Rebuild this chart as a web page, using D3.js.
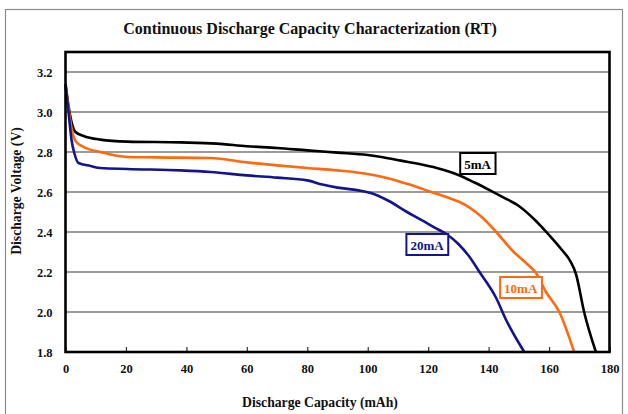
<!DOCTYPE html>
<html><head><meta charset="utf-8">
<script src="https://cdn.jsdelivr.net/npm/d3@7"></script>
<style>
body{margin:0;background:#fff;}
text{font-family:"Liberation Serif","Times New Roman",serif;font-weight:bold;}
</style></head>
<body><svg id="c" width="628" height="414"></svg>
<script>
const title = "Continuous Discharge Capacity Characterization (RT)";
const xTitle = "Discharge Capacity (mAh)";
const yTitle = "Discharge Voltage (V)";
const xTicks = [0,20,40,60,80,100,120,140,160,180];
const yTicks = [1.8,2.0,2.2,2.4,2.6,2.8,3.0,3.2];

const cap5 = [0,1,2,3.3,6,11.5,20.5,38,50,60,70,80,90,100,105,111,117,122.8,130,135,140,145,150,155,160,164,167,168.9,171.6,175.5];
const v5   = [3.14,3.03,2.95,2.90,2.88,2.862,2.852,2.848,2.842,2.829,2.82,2.808,2.797,2.785,2.774,2.757,2.74,2.72,2.685,2.65,2.612,2.572,2.53,2.465,2.385,2.315,2.255,2.19,2.0,1.8];

const cap10 = [0,1,2,3.3,6,11.5,20.5,30,48,60,70,80,90,100,107,113.9,120.5,127,130.4,133.7,138.1,142.5,148,152.4,155.7,159,163.4,168.3];
const v10   = [3.14,3.02,2.92,2.855,2.825,2.80,2.775,2.773,2.77,2.748,2.733,2.72,2.708,2.69,2.668,2.637,2.603,2.57,2.55,2.522,2.47,2.40,2.305,2.245,2.195,2.10,2.0,1.8];

const cap20 = [0,1,2,3,4.3,8.3,11.5,20.5,38,48,60,70,80,85,90,97,101,107,113,118,122,126,130,133.7,137,142.5,145.8,151.8];
const v20   = [3.14,3.0,2.86,2.79,2.745,2.73,2.72,2.715,2.708,2.70,2.683,2.672,2.658,2.637,2.622,2.608,2.595,2.555,2.50,2.458,2.423,2.39,2.34,2.275,2.2,2.07,1.96,1.8];

const seriesNames = ["5mA","10mA","20mA"];
const seriesColors = ["#000000","#ff6a0e","#14148c"];
const seriesCaps = [cap5,cap10,cap20];
const seriesVolts = [v5,v10,v20];

const svg = d3.select("#c");
const L=65.5, R=609.5, T=52, B=352;
const x = d3.scaleLinear().domain([0,180]).range([L,R]);
const y = d3.scaleLinear().domain([1.8,3.3]).range([B,T]);

svg.append("rect").attr("x",5.5).attr("y",9.5).attr("width",617).attr("height",420)
  .attr("fill","none").attr("stroke","#8c8c8c").attr("stroke-width",1.2);

svg.append("text").attr("x",310).attr("y",34).attr("text-anchor","middle")
  .attr("font-size",16).attr("fill","#111").text(title);

svg.append("g").selectAll("line").data(yTicks.filter(d=>d>1.8)).join("line")
  .attr("x1",L).attr("x2",R).attr("y1",d=>y(d)).attr("y2",d=>y(d))
  .attr("stroke","#7a7a7a").attr("stroke-width",1.6);

const xAxis = d3.axisBottom(x).tickValues(xTicks).tickSizeInner(-5).tickSizeOuter(0).tickPadding(12).tickFormat(d3.format("d"));
const gx = svg.append("g").attr("transform",`translate(0,${B})`).call(xAxis);
gx.select(".domain").remove();
gx.selectAll("line").attr("stroke","#333").attr("stroke-width",1.2);
gx.selectAll("text").attr("font-size",12.5).attr("fill","#111");

const yAxis = d3.axisLeft(y).tickValues(yTicks).tickSize(0).tickPadding(13).tickFormat(d3.format(".1f"));
const gy = svg.append("g").attr("transform",`translate(${L},0)`).call(yAxis);
gy.select(".domain").remove();
gy.selectAll("text").attr("font-size",12.5).attr("fill","#111");

const line = d3.line().x(d=>x(d[0])).y(d=>y(d[1])).curve(d3.curveMonotoneX);
seriesNames.forEach((n,i)=>{
  const pts = seriesCaps[i].map((c,j)=>[c,seriesVolts[i][j]]);
  svg.append("path").datum(pts).attr("d",line).attr("fill","none")
    .attr("stroke",seriesColors[i]).attr("stroke-width",2.6).attr("stroke-linejoin","round");
});

svg.append("rect").attr("x",L).attr("y",T).attr("width",R-L).attr("height",B-T)
  .attr("fill","none").attr("stroke","#000").attr("stroke-width",2.6);

// label anchors (capacity, voltage) = top-left of each label box
const labelPos = [[130.6,2.795],[143.8,2.175],[112.8,2.39]];
seriesNames.forEach((n,i)=>{
  const [cx,cv] = labelPos[i];
  const x0 = x(cx), y0 = y(cv);
  const g = svg.append("g");
  const txt = g.append("text").attr("x",x0+4).attr("y",y0+15.5).attr("font-size",13)
    .attr("fill",seriesColors[i]).text(n);
  const bb = txt.node().getBBox();
  g.insert("rect","text").attr("x",x0).attr("y",y0).attr("width",bb.width+8).attr("height",21)
    .attr("fill","#fff").attr("stroke",seriesColors[i]).attr("stroke-width",2);
});

svg.append("text").attr("x",320).attr("y",407).attr("text-anchor","middle")
  .attr("font-size",13.7).attr("fill","#111").text(xTitle);
svg.append("text").attr("transform","translate(21,191) rotate(-90)").attr("text-anchor","middle")
  .attr("font-size",13.7).attr("fill","#111").text(yTitle);
</script></body></html>
